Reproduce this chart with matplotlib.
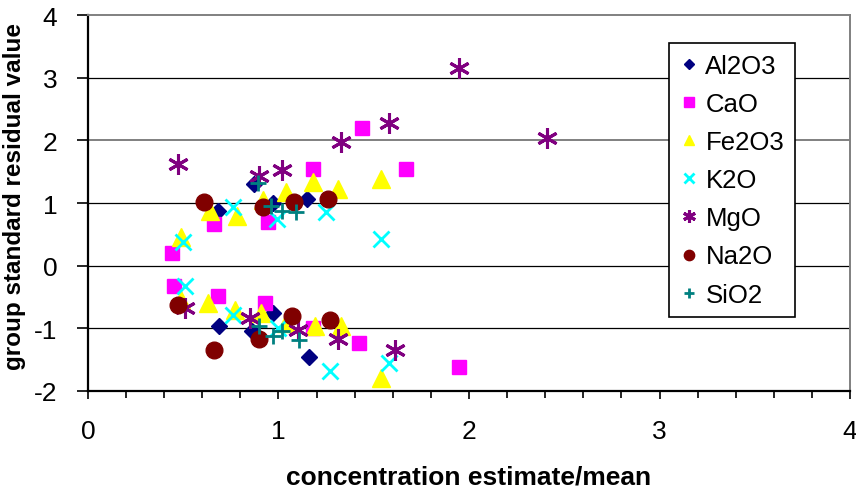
import matplotlib
matplotlib.use("Agg")
import matplotlib.pyplot as plt
from matplotlib.ticker import MultipleLocator

plt.rcParams['font.family'] = ['Liberation Sans', 'DejaVu Sans']
plt.rcParams['axes.unicode_minus'] = False

# concentration estimate/mean (x) and group standard residual value (y)
al2o3_x = [0.68, 0.87, 0.97, 1.15, 0.69, 0.86, 0.97, 1.16]
al2o3_y = [0.88, 1.30, 1.00, 1.06, -0.96, -1.05, -0.75, -1.45]

cao_x = [0.44, 0.66, 0.945, 1.18, 1.44, 1.67, 0.45, 0.68, 0.93, 1.18, 1.42, 1.95]
cao_y = [0.21, 0.66, 0.69, 1.54, 2.19, 1.55, -0.33, -0.48, -0.59, -0.99, -1.23, -1.62]

fe2o3_x = [0.49, 0.64, 0.78, 0.92, 1.04, 1.18, 1.31, 1.54,
           0.49, 0.63, 0.77, 0.91, 1.04, 1.19, 1.33, 1.54]
fe2o3_y = [0.46, 0.87, 0.79, 1.05, 1.17, 1.33, 1.22, 1.39,
           -0.55, -0.60, -0.70, -0.76, -0.92, -0.96, -0.97, -1.79]

k2o_x = [0.50, 0.76, 0.99, 1.25, 1.54, 0.51, 0.76, 1.00, 1.27, 1.58]
k2o_y = [0.37, 0.93, 0.74, 0.85, 0.43, -0.33, -0.78, -1.00, -1.68, -1.55]

mgo_x = [0.47, 0.90, 1.02, 1.33, 1.58, 1.95, 2.41, 0.51, 0.85, 1.10, 1.31, 1.61]
mgo_y = [1.62, 1.43, 1.52, 1.98, 2.27, 3.15, 2.03, -0.67, -0.84, -1.03, -1.17, -1.34]

na2o_x = [0.61, 0.92, 1.08, 1.26, 0.47, 0.66, 0.90, 1.07, 1.27]
na2o_y = [1.01, 0.93, 1.01, 1.06, -0.63, -1.35, -1.17, -0.81, -0.86]

sio2_x = [0.89, 0.96, 1.02, 1.09, 0.90, 0.97, 1.02, 1.11]
sio2_y = [1.32, 0.95, 0.88, 0.85, -0.96, -1.12, -1.04, -1.18]

fig = plt.figure(figsize=(8.56, 4.89), dpi=100)
ax = fig.add_axes([0.1028, 0.1984, 0.8902, 0.7688])

ax.plot(al2o3_x, al2o3_y, 'D', color='#000080', markersize=8.5, label='Al2O3')
ax.plot(cao_x, cao_y, 's', color='#FF00FF', markersize=10.5, label='CaO')
ax.plot(fe2o3_x, fe2o3_y, '^', color='#FFFF00', markersize=12.5, label='Fe2O3')
ax.plot(k2o_x, k2o_y, 'x', color='#00FFFF', markersize=11, mew=2, label='K2O')
ax.plot(mgo_x, mgo_y, marker=(6, 2, 0), ls='none', color='#800080', markersize=15,
        mew=2.2, label='MgO')
ax.plot(na2o_x, na2o_y, 'o', color='#800000', markersize=12, label='Na2O')
ax.plot(sio2_x, sio2_y, '+', color='#008080', markersize=12, mew=2, label='SiO2')

ax.set_xlim(0, 4)
ax.set_ylim(-2, 4)
ax.xaxis.set_major_locator(MultipleLocator(1))
ax.xaxis.set_minor_locator(MultipleLocator(0.2))
ax.yaxis.set_major_locator(MultipleLocator(1))

for yv in [-1, 0, 1, 3]:
    ax.axhline(yv, color='black', lw=0.9, zorder=0)
ax.axhline(2, color='#808080', lw=1.4, zorder=0)

ax.spines['top'].set_color('#808080')
ax.spines['top'].set_linewidth(1.4)
ax.spines['right'].set_color('#808080')
ax.spines['right'].set_linewidth(1.4)
ax.spines['left'].set_linewidth(1.6)
ax.spines['bottom'].set_linewidth(1.6)

ax.tick_params(axis='both', labelsize=19, direction='out', width=1.2)
ax.tick_params(axis='y', length=8, pad=14)
ax.tick_params(axis='x', which='major', length=6, pad=14)
ax.tick_params(axis='x', which='minor', length=5, width=1.2)

ax.set_xlabel('concentration estimate/mean', fontsize=19, fontweight='bold', labelpad=16)
ax.set_ylabel('group standard residual value', fontsize=17.5, fontweight='bold')
ax.yaxis.set_label_coords(-0.082, 0.52)

leg = ax.legend(loc='upper left', bbox_to_anchor=(0.762, 0.9255), fontsize=18.5,
                frameon=True, fancybox=False, edgecolor='black', framealpha=1,
                borderaxespad=0, borderpad=0.42, handlelength=0.75, handletextpad=0.26,
                labelspacing=0.55, markerscale=0.62)
leg.get_frame().set_linewidth(1.2)

fig.savefig('out.png', dpi=100)
